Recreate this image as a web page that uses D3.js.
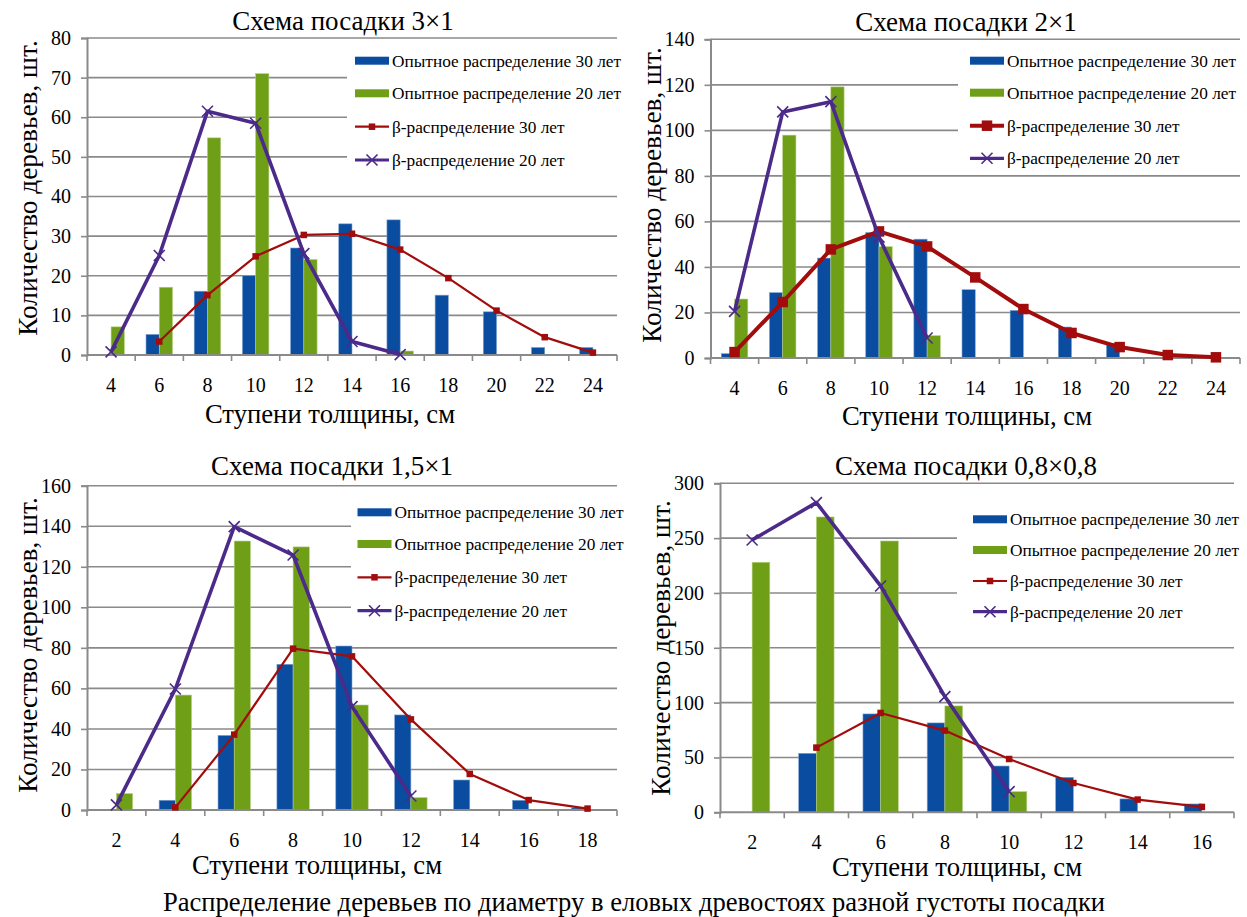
<!DOCTYPE html>
<html><head><meta charset="utf-8">
<script src="https://cdn.jsdelivr.net/npm/d3@7"></script>
</head>
<body style="margin:0;background:#fff">
<svg id="chart" width="1247" height="917" style="display:block"></svg>
<script>
// ---------- DATA ----------
const seriesNames = ["Опытное распределение 30 лет","Опытное распределение 20 лет","β-распределение 30 лет","β-распределение 20 лет"];
const xTitle = "Ступени толщины, см";
const yTitle = "Количество деревьев, шт.";
const caption = "Распределение деревьев по диаметру в еловых древостоях разной густоты посадки";

// Panel 1: 3×1
const title1 = "Схема посадки 3×1";
const cats1 = [4,6,8,10,12,14,16,18,20,22,24];
const exp30_1 = [0,5.2,16.1,20.0,27.0,33.1,34.1,15.1,10.9,1.9,1.9];
const exp20_1 = [7.1,17.1,54.8,71.0,24.1,0,1.0,0,0,0,0];
const beta30_1 = [null,3.4,15.1,24.9,30.3,30.6,26.6,19.4,11.2,4.5,0.6];
const beta20_1 = [0.8,25.1,61.5,58.5,25.6,3.4,0.1,null,null,null,null];
const yTicks1 = [0,10,20,30,40,50,60,70,80];

// Panel 2: 2×1
const title2 = "Схема посадки 2×1";
const cats2 = [4,6,8,10,12,14,16,18,20,22,24];
const exp30_2 = [1.9,28.7,43.9,55.1,52.2,30.0,20.9,13.6,6.4,0,0];
const exp20_2 = [25.9,97.9,119.1,48.9,9.8,0,0,0,0,0,0];
const beta30_2 = [2.6,24.6,47.7,55.6,49.0,35.4,21.5,11.0,4.8,1.3,0.3];
const beta20_2 = [20.5,108.1,112.6,53.1,8.8,null,null,null,null,null,null];
const yTicks2 = [0,20,40,60,80,100,120,140];

// Panel 3: 1,5×1
const title3 = "Схема посадки 1,5×1";
const cats3 = [2,4,6,8,10,12,14,16,18];
const exp30_3 = [0,4.8,36.8,71.9,80.9,46.9,14.8,4.8,1.0];
const exp20_3 = [8.1,56.7,132.7,129.8,51.8,6.1,0,0,0];
const beta30_3 = [null,1.3,37.2,79.6,75.8,44.7,17.8,4.9,0.7];
const beta20_3 = [2.5,59.7,139.8,125.8,51.0,6.9,null,null,null];
const yTicks3 = [0,20,40,60,80,100,120,140,160];

// Panel 4: 0,8×0,8
const title4 = "Схема посадки 0,8×0,8";
const cats4 = [2,4,6,8,10,12,14,16];
const exp30_4 = [0,53.8,89.7,81.5,42.2,31.9,12.2,7.6];
const exp20_4 = [228,269.3,247.4,97,18.8,0,0,0];
const beta30_4 = [null,59,90.6,74.5,48.6,26.7,11.6,4.9];
const beta20_4 = [248.3,282.4,206.4,105.5,18.8,null,null,null];
const yTicks4 = [0,50,100,150,200,250,300];

// ---------- STYLE ----------
const C_BLUE = "#0a4ca0", C_GREEN = "#6f9f16", C_RED = "#a30c0c", C_PURPLE = "#4b2a8a";
const C_GRID = "#8a8a8a";
const FONT = "'Liberation Serif'";

const svg = d3.select("#chart");

function drawPanel(p) {
  const g = svg.append("g");
  const x = d3.scaleBand().domain(p.cats).range([p.x0, p.x1]).paddingInner(0).paddingOuter(0);
  const y = d3.scaleLinear().domain([0, d3.max(p.yTicks)]).range([p.yBot, p.yTop]);
  const bw = x.bandwidth();
  const barW = bw * 0.275;

  // gridlines
  g.append("g").selectAll("line").data(p.yTicks.filter(v => v > 0)).join("line")
    .attr("x1", p.x0).attr("x2", p.x1)
    .attr("y1", d => y(d)).attr("y2", d => y(d))
    .attr("stroke", C_GRID).attr("stroke-width", 1.6);

  // y axis
  const ya = g.append("g").attr("transform", `translate(${p.x0},0)`)
    .call(d3.axisLeft(y).tickValues(p.yTicks).tickSize(6).tickPadding(10).tickFormat(d3.format("d")));
  ya.attr("font-family", null);
  ya.select(".domain").attr("stroke", C_GRID).attr("stroke-width", 2);
  ya.selectAll(".tick line").attr("stroke", C_GRID).attr("stroke-width", 1.6);
  ya.selectAll("text").style("font-family", FONT).style("font-size", "20px").attr("fill", "#000");

  // x axis labels
  const xa = g.append("g").attr("transform", `translate(0,${p.yBot})`)
    .call(d3.axisBottom(x).tickSize(0).tickPadding(23));
  xa.attr("font-family", null);
  xa.select(".domain").remove();
  xa.selectAll("text").style("font-family", FONT).style("font-size", "20px").attr("fill", "#000");
  // category boundary ticks
  const bounds = p.cats.map(c => x(c)).concat([p.x1]);
  g.append("g").selectAll("line").data(bounds).join("line")
    .attr("x1", d => d).attr("x2", d => d)
    .attr("y1", p.yBot).attr("y2", p.yBot + 6)
    .attr("stroke", C_GRID).attr("stroke-width", 1.6);

  // legend background box (hides gridlines)
  g.append("rect").attr("x", p.leg.boxX).attr("y", p.leg.boxY)
    .attr("width", p.x1 - p.leg.boxX + 1).attr("height", p.leg.boxH)
    .attr("fill", "#fff");

  // bars
  g.append("g").selectAll("rect").data(p.cats.map((c, i) => ({c, v: p.exp30[i]})).filter(d => d.v > 0))
    .join("rect")
    .attr("x", d => x(d.c) + bw / 2 - barW).attr("width", barW)
    .attr("y", d => y(d.v)).attr("height", d => y(0) - y(d.v))
    .attr("fill", C_BLUE).attr("stroke", "#7fa3d0").attr("stroke-width", 0.6);
  g.append("g").selectAll("rect").data(p.cats.map((c, i) => ({c, v: p.exp20[i]})).filter(d => d.v > 0))
    .join("rect")
    .attr("x", d => x(d.c) + bw / 2).attr("width", barW)
    .attr("y", d => y(d.v)).attr("height", d => y(0) - y(d.v))
    .attr("fill", C_GREEN).attr("stroke", "#b5cf80").attr("stroke-width", 0.6);

  // x-axis baseline (over bars)
  g.append("line").attr("x1", p.x0).attr("x2", p.x1).attr("y1", p.yBot).attr("y2", p.yBot)
    .attr("stroke", C_GRID).attr("stroke-width", 2);

  const line = d3.line().defined(d => d.v != null).x(d => x(d.c) + bw / 2).y(d => y(d.v));

  // red beta 30
  const r30 = p.cats.map((c, i) => ({c, v: p.beta30[i]}));
  g.append("path").datum(r30).attr("d", line).attr("fill", "none")
    .attr("stroke", C_RED).attr("stroke-width", p.redW).attr("stroke-linejoin", "round");
  g.append("g").selectAll("rect").data(r30.filter(d => d.v != null)).join("rect")
    .attr("x", d => x(d.c) + bw / 2 - p.redM / 2).attr("y", d => y(d.v) - p.redM / 2)
    .attr("width", p.redM).attr("height", p.redM).attr("fill", C_RED);

  // purple beta 20
  const p20 = p.cats.map((c, i) => ({c, v: p.beta20[i]}));
  g.append("path").datum(p20).attr("d", line).attr("fill", "none")
    .attr("stroke", C_PURPLE).attr("stroke-width", 3.6).attr("stroke-linejoin", "round");
  const xs = 5.5;
  g.append("g").selectAll("path").data(p20.filter(d => d.v != null)).join("path")
    .attr("d", d => {
      const cx = x(d.c) + bw / 2, cy = y(d.v);
      return `M${cx - xs},${cy - xs}L${cx + xs},${cy + xs}M${cx - xs},${cy + xs}L${cx + xs},${cy - xs}`;
    })
    .attr("stroke", C_PURPLE).attr("stroke-width", 1.6).attr("fill", "none");

  // legend
  const L = p.leg;
  const symW = 34;
  L.rows.forEach((ry, i) => {
    if (i === 0 || i === 1) {
      g.append("rect").attr("x", L.symX).attr("y", ry - 4).attr("width", symW).attr("height", 8)
        .attr("fill", i === 0 ? C_BLUE : C_GREEN);
    } else if (i === 2) {
      g.append("line").attr("x1", L.symX).attr("x2", L.symX + symW).attr("y1", ry).attr("y2", ry)
        .attr("stroke", C_RED).attr("stroke-width", p.redW);
      g.append("rect").attr("x", L.symX + symW / 2 - p.redM / 2).attr("y", ry - p.redM / 2)
        .attr("width", p.redM).attr("height", p.redM).attr("fill", C_RED);
    } else {
      g.append("line").attr("x1", L.symX).attr("x2", L.symX + symW).attr("y1", ry).attr("y2", ry)
        .attr("stroke", C_PURPLE).attr("stroke-width", 3.2);
      const cx = L.symX + symW / 2;
      g.append("path").attr("d", `M${cx - xs},${ry - xs}L${cx + xs},${ry + xs}M${cx - xs},${ry + xs}L${cx + xs},${ry - xs}`)
        .attr("stroke", C_PURPLE).attr("stroke-width", 1.6);
    }
    g.append("text").attr("x", L.symX + symW + 3).attr("y", ry).attr("dy", "0.35em")
      .style("font-family", FONT).style("font-size", "17.3px").attr("fill", "#000").text(seriesNames[i]);
  });

  // titles
  g.append("text").attr("x", p.titleX).attr("y", p.titleY).attr("text-anchor", "middle")
    .style("font-family", FONT).style("font-size", "27px").attr("fill", "#000").text(p.title);
  g.append("text").attr("x", p.xtX).attr("y", p.xtY).attr("text-anchor", "middle")
    .style("font-family", FONT).style("font-size", "26.7px").attr("fill", "#000").text(xTitle);
  g.append("text").attr("transform", `translate(${p.ytX},${p.ytY}) rotate(-90)`)
    .attr("text-anchor", "middle").attr("dy", "0.35em")
    .style("font-family", FONT).style("font-size", "27.3px").attr("fill", "#000").text(yTitle);
}

drawPanel({title: title1, cats: cats1, exp30: exp30_1, exp20: exp20_1, beta30: beta30_1, beta20: beta20_1, yTicks: yTicks1,
  x0: 87, x1: 617, yTop: 38, yBot: 355, redW: 2.2, redM: 6.5,
  leg: {symX: 355, rows: [60.7, 93.3, 126.7, 160], boxX: 347, boxY: 46, boxH: 130},
  titleX: 343, titleY: 30, xtX: 330, xtY: 423, ytX: 27, ytY: 188});

drawPanel({title: title2, cats: cats2, exp30: exp30_2, exp20: exp20_2, beta30: beta30_2, beta20: beta20_2, yTicks: yTicks2,
  x0: 710.5, x1: 1240, yTop: 39.3, yBot: 358, redW: 4, redM: 10.5,
  leg: {symX: 970, rows: [60.7, 92.7, 125.7, 158.3], boxX: 958, boxY: 46, boxH: 124},
  titleX: 966, titleY: 31, xtX: 967, xtY: 425, ytX: 651, ytY: 195});

drawPanel({title: title3, cats: cats3, exp30: exp30_3, exp20: exp20_3, beta30: beta30_3, beta20: beta20_3, yTicks: yTicks3,
  x0: 87, x1: 617, yTop: 485.7, yBot: 810, redW: 2.2, redM: 6.5,
  leg: {symX: 357.5, rows: [512.3, 544, 577.3, 610.7], boxX: 351, boxY: 492, boxH: 136},
  titleX: 332, titleY: 475, xtX: 317, xtY: 874, ytX: 27, ytY: 645});

drawPanel({title: title4, cats: cats4, exp30: exp30_4, exp20: exp20_4, beta30: beta30_4, beta20: beta20_4, yTicks: yTicks4,
  x0: 720, x1: 1234, yTop: 483.3, yBot: 812.3, redW: 2.2, redM: 6.5,
  leg: {symX: 973, rows: [519.3, 550, 581, 611.7], boxX: 957, boxY: 500, boxH: 128},
  titleX: 966, titleY: 475, xtX: 957, xtY: 876, ytX: 660, ytY: 648});

svg.append("text").attr("x", 634).attr("y", 911).attr("text-anchor", "middle")
  .style("font-family", FONT).style("font-size", "26.6px").attr("fill", "#000").text(caption);
</script>
</body></html>
